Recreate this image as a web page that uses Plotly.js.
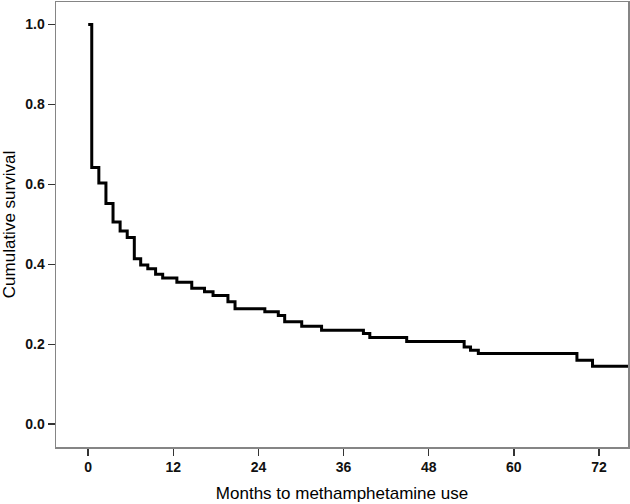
<!DOCTYPE html>
<html>
<head>
<meta charset="utf-8">
<script src="https://cdn.plot.ly/plotly-3.0.1.min.js"></script>
<style>
  html, body { margin: 0; padding: 0; background: #fff; }
  #chart { width: 630px; height: 504px; }
</style>
</head>
<body>
<div id="chart"></div>
<script>
// Kaplan-Meier step points (months, cumulative survival after the step)
const months = [0, 0.5, 1.5, 2.5, 3.5, 4.5, 5.5, 6.5, 7.4, 8.4, 9.5, 10.5, 12.5, 14.6,
  16.4, 17.6, 19.7, 20.7, 24.9, 26.8, 27.7, 30.1, 32.9, 38.8, 39.7, 44.9,
  53.0, 53.9, 55.0, 68.9, 71.1, 77];
const survival = [1.0, 0.642, 0.603, 0.552, 0.506, 0.483, 0.467, 0.414, 0.398, 0.389, 0.375, 0.366, 0.355, 0.340,
  0.331, 0.322, 0.306, 0.289, 0.281, 0.272, 0.256, 0.245, 0.235, 0.227, 0.217, 0.207,
  0.193, 0.185, 0.177, 0.160, 0.145, 0.145];

const xTicks = [0, 12, 24, 36, 48, 60, 72];
const yTicks = [0.0, 0.2, 0.4, 0.6, 0.8, 1.0];

const tickFont = { family: 'Liberation Sans, Arial, sans-serif', size: 14, color: '#111', weight: 'bold' };
const titleFont = { family: 'Liberation Sans, Arial, sans-serif', size: 17, color: '#000' };

const trace = {
  x: months,
  y: survival,
  type: 'scatter',
  mode: 'lines',
  line: { shape: 'hv', color: '#000', width: 3 },
  hoverinfo: 'x+y',
};

const axisCommon = {
  showgrid: false,
  zeroline: false,
  showline: true,
  mirror: true,
  linecolor: '#858585',
  linewidth: 1.5,
  ticks: 'outside',
  ticklen: 7,
  tickwidth: 1.5,
  tickcolor: '#333',
  tickfont: tickFont,
};

const layout = {
  width: 630,
  height: 504,
  margin: { l: 56, r: 2, t: 2, b: 57 },
  paper_bgcolor: '#fff',
  plot_bgcolor: '#fff',
  showlegend: false,
  xaxis: {
    ...axisCommon,
    range: [-4.54, 76.1],
    tickvals: xTicks,
    ticktext: xTicks.map(String),
    title: { text: 'Months to methamphetamine use', font: titleFont, standoff: 13 },
  },
  yaxis: {
    ...axisCommon,
    range: [-0.057, 1.056],
    tickvals: yTicks,
    ticktext: yTicks.map((v) => v.toFixed(1)),
    title: { text: 'Cumulative survival', font: titleFont, standoff: 6 },
  },
};

Plotly.newPlot('chart', [trace], layout, { displayModeBar: false, staticPlot: true });
</script>
</body>
</html>
